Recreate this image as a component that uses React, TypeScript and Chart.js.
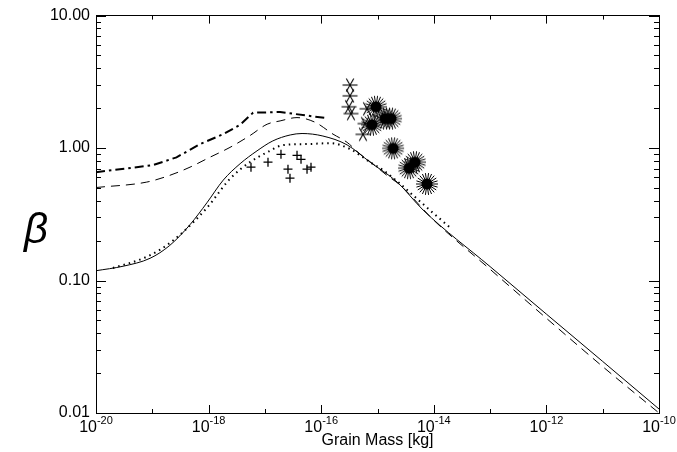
import React, { useEffect, useRef } from 'react';
import { Chart, registerables } from 'chart.js';

Chart.register(...registerables);

// ---- data (mass as log10 kg, beta as value) ----
const solidLogMass = [-20, -19.52, -19.04, -18.69, -18.33, -18.03, -17.74, -17.44, -17.14, -16.86, -16.55, -16.34, -15.97, -15.54, -15.13, -14.65, -14.19, -13, -12, -11, -10];
const solidBeta = [0.1186, 0.1282, 0.1472, 0.1841, 0.2642, 0.3864, 0.5728, 0.7621, 0.9528, 1.132, 1.256, 1.288, 1.233, 1.057, 0.7816, 0.5534, 0.3404, 0.1274, 0.0558, 0.0245, 0.01072];

const dottedLogMass = [-19.70, -19.22, -18.86, -18.51, -18.03, -17.62, -17.27, -16.96, -16.68, -16.25, -15.84, -15.49, -15.13, -14.90, -14.60, -14.37, -14.07, -13.71];
const dottedBeta = [0.1245, 0.1439, 0.1710, 0.2213, 0.354, 0.5861, 0.7816, 0.929, 1.052, 1.072, 1.089, 0.984, 0.782, 0.681, 0.538, 0.441, 0.340, 0.251];

const dashedLogMass = [-20, -19.10, -18.69, -18.33, -17.98, -17.62, -17.27, -16.96, -16.73, -16.43, -16.11, -15.79, -15.54, -15.31, -15.08, -14.83, -14.60, -14, -13, -12, -11, -10];
const dashedBeta = [0.5035, 0.5534, 0.6223, 0.7178, 0.8511, 1.012, 1.239, 1.514, 1.603, 1.698, 1.567, 1.274, 1.104, 0.9016, 0.7586, 0.6209, 0.526, 0.2851, 0.1216, 0.0519, 0.0224, 0.01];

const dashDotLogMass = [-20, -18.99, -18.57, -18.15, -17.74, -17.44, -17.21, -16.73, -15.93];
const dashDotBeta = [0.6577, 0.743, 0.8511, 1.072, 1.274, 1.50, 1.849, 1.871, 1.687];

const plusMass = [5.66e-18, 1.135e-17, 1.93e-17, 3.72e-17, 4.38e-17, 2.57e-17, 2.79e-17, 5.6e-17, 6.59e-17];
const plusBeta = [0.718, 0.782, 0.897, 0.881, 0.822, 0.693, 0.593, 0.693, 0.718];

const asteriskMass = [3.25e-16, 3.25e-16, 3.12e-16, 3.38e-16, 6.51e-16, 6.0e-16, 5.52e-16];
const asteriskBeta = [2.99, 2.48, 2.05, 1.82, 1.98, 1.53, 1.27];

const burstMass = [9.4e-16, 1.36e-15, 1.74e-15, 7.98e-16, 1.89e-15, 4.63e-15, 3.63e-15, 7.57e-15];
const burstBeta = [2.05, 1.67, 1.67, 1.50, 0.995, 0.782, 0.705, 0.536];

const xMajorExps = [-20, -18, -16, -14, -12, -10];
const xMinorExps = [-19, -17, -15, -13, -11];
const yTickValues = [0.01, 0.1, 1, 10];
const yTickLabels = ['0.01', '0.10', '1.00', '10.00'];
const xTitle = 'Grain Mass [kg]';
const yTitle = 'β';

const FONT = '"Liberation Sans", Arial, Helvetica, sans-serif';

function curve(logM: number[], beta: number[]) {
  return logM.map((e, i) => ({ x: Math.pow(10, e), y: beta[i] }));
}
function pts(m: number[], b: number[]) {
  return m.map((v, i) => ({ x: v, y: b[i] }));
}

function makeAsterisk(): HTMLCanvasElement {
  const c = document.createElement('canvas');
  c.width = 18; c.height = 18;
  const g = c.getContext('2d')!;
  g.strokeStyle = '#000';
  g.lineWidth = 1.1;
  const r = 7.5;
  const angles = [0, 60, 120];
  for (const a of angles) {
    const t = (a * Math.PI) / 180;
    g.beginPath();
    g.moveTo(9 - r * Math.cos(t), 9 - r * Math.sin(t));
    g.lineTo(9 + r * Math.cos(t), 9 + r * Math.sin(t));
    g.stroke();
  }
  return c;
}

function makeBurst(): HTMLCanvasElement {
  const c = document.createElement('canvas');
  c.width = 26; c.height = 26;
  const g = c.getContext('2d')!;
  g.strokeStyle = '#000';
  g.fillStyle = '#000';
  g.lineWidth = 1;
  const n = 22;
  for (let i = 0; i < n; i++) {
    const t = (i * 2 * Math.PI) / n;
    g.beginPath();
    g.moveTo(13, 13);
    g.lineTo(13 + 11 * Math.cos(t), 13 + 11 * Math.sin(t));
    g.stroke();
  }
  g.beginPath();
  g.arc(13, 13, 5.5, 0, Math.PI * 2);
  g.fill();
  return c;
}

const axisDecor = {
  id: 'axisDecor',
  afterDraw(chart: any) {
    const ctx = chart.ctx as CanvasRenderingContext2D;
    const { left, right, top, bottom } = chart.chartArea;
    const xs = chart.scales.x;
    const ys = chart.scales.y;
    ctx.save();
    ctx.strokeStyle = '#000';
    ctx.lineWidth = 1;
    const line = (x1: number, y1: number, x2: number, y2: number) => {
      ctx.beginPath(); ctx.moveTo(x1, y1); ctx.lineTo(x2, y2); ctx.stroke();
    };
    const xTicks = [...xMajorExps.map(e => ({ e, len: 8 })), ...xMinorExps.map(e => ({ e, len: 4 }))];
    for (const t of xTicks) {
      const px = Math.round(xs.getPixelForValue(Math.pow(10, t.e))) + 0.5;
      line(px, bottom, px, bottom - t.len);
      line(px, top, px, top + t.len);
    }
    for (let d = 0; d < yTickValues.length; d++) {
      const base = yTickValues[d];
      for (let k = 1; k <= 9; k++) {
        const v = base * k;
        if (v > 10.0001) break;
        const py = Math.round(ys.getPixelForValue(v)) + 0.5;
        const len = k === 1 ? 10 : 5;
        line(left, py, left + len, py);
        line(right, py, right - len, py);
      }
    }
    // x tick labels 10^n
    ctx.fillStyle = '#000';
    ctx.textBaseline = 'alphabetic';
    for (const e of xMajorExps) {
      const px = xs.getPixelForValue(Math.pow(10, e));
      ctx.font = `16px ${FONT}`;
      const base = '10';
      const wb = ctx.measureText(base).width;
      ctx.font = `11px ${FONT}`;
      const sup = String(e);
      const ws = ctx.measureText(sup).width;
      const x0 = px - (wb + ws) / 2;
      ctx.font = `16px ${FONT}`;
      ctx.textAlign = 'left';
      ctx.fillText(base, x0, bottom + 19);
      ctx.font = `11px ${FONT}`;
      ctx.fillText(sup, x0 + wb, bottom + 11);
    }
    // beta title
    ctx.font = `italic 42px ${FONT}`;
    ctx.textAlign = 'center';
    ctx.fillText(yTitle, 36, 243);
    ctx.restore();
  },
};

export default function App() {
  const ref = useRef<HTMLCanvasElement | null>(null);
  useEffect(() => {
    if (!ref.current) return;
    const asterisk = makeAsterisk();
    const burst = makeBurst();
    const noTicks = { display: false };
    const chart = new Chart(ref.current, {
      type: 'scatter',
      data: {
        datasets: [
          { data: curve(solidLogMass, solidBeta), showLine: true, borderColor: '#000', borderWidth: 1, pointRadius: 0, cubicInterpolationMode: 'monotone' },
          { data: curve(dashedLogMass, dashedBeta), showLine: true, borderColor: '#000', borderWidth: 1, borderDash: [9, 6], pointRadius: 0, cubicInterpolationMode: 'monotone' },
          { data: curve(dottedLogMass, dottedBeta), showLine: true, borderColor: '#000', borderWidth: 2, borderDash: [1.5, 4], pointRadius: 0, cubicInterpolationMode: 'monotone' },
          { data: curve(dashDotLogMass, dashDotBeta), showLine: true, borderColor: '#000', borderWidth: 2, borderDash: [9, 4, 2.5, 4], pointRadius: 0, tension: 0 },
          { data: pts(plusMass, plusBeta), showLine: false, pointStyle: 'cross', pointRadius: 4.5, borderColor: '#000', pointBorderWidth: 1.3, borderWidth: 1.3 },
          { data: pts(asteriskMass, asteriskBeta), showLine: false, pointStyle: asterisk, pointRadius: 9 },
          { data: pts(burstMass, burstBeta), showLine: false, pointStyle: burst, pointRadius: 13 },
        ],
      } as any,
      options: {
        animation: false,
        responsive: true,
        maintainAspectRatio: false,
        layout: { padding: 0 },
        plugins: { legend: { display: false }, tooltip: { enabled: false } },
        events: [],
        scales: {
          x: {
            type: 'logarithmic', position: 'bottom', min: 1e-20, max: 1e-10,
            ticks: noTicks, grid: { display: false, drawTicks: false },
            border: { display: true, color: '#000', width: 1 },
            title: { display: true, text: xTitle, color: '#000', font: { size: 16, family: FONT }, padding: { top: 0, bottom: 2 } },
            afterFit: (s: any) => { s.height = 39; },
          },
          x2: {
            type: 'logarithmic', position: 'top', min: 1e-20, max: 1e-10,
            ticks: noTicks, grid: { display: false, drawTicks: false },
            border: { display: true, color: '#000', width: 1 },
            afterFit: (s: any) => { s.height = 12; },
          },
          y: {
            type: 'logarithmic', position: 'left', min: 0.01, max: 10,
            grid: { display: false, drawTicks: false },
            border: { display: true, color: '#000', width: 1 },
            afterBuildTicks: (s: any) => { s.ticks = yTickValues.map(v => ({ value: v })); },
            ticks: {
              color: '#000', padding: 6, font: { size: 16, family: FONT },
              autoSkip: false,
              callback: (v: any) => { const i = yTickValues.findIndex(t => Math.abs(t - Number(v)) < 1e-9); return i >= 0 ? yTickLabels[i] : ''; },
            },
            afterFit: (s: any) => { s.width = 96; },
          },
          y2: {
            type: 'logarithmic', position: 'right', min: 0.01, max: 10,
            ticks: noTicks, grid: { display: false, drawTicks: false },
            border: { display: true, color: '#000', width: 1 },
            afterFit: (s: any) => { s.width = 18; },
          },
        },
      } as any,
      plugins: [axisDecor],
    });
    return () => chart.destroy();
  }, []);
  return (
    <div style={{ position: 'absolute', left: 0, top: 0, width: 677, height: 452, background: '#fff' }}>
      <canvas ref={ref} />
    </div>
  );
}
